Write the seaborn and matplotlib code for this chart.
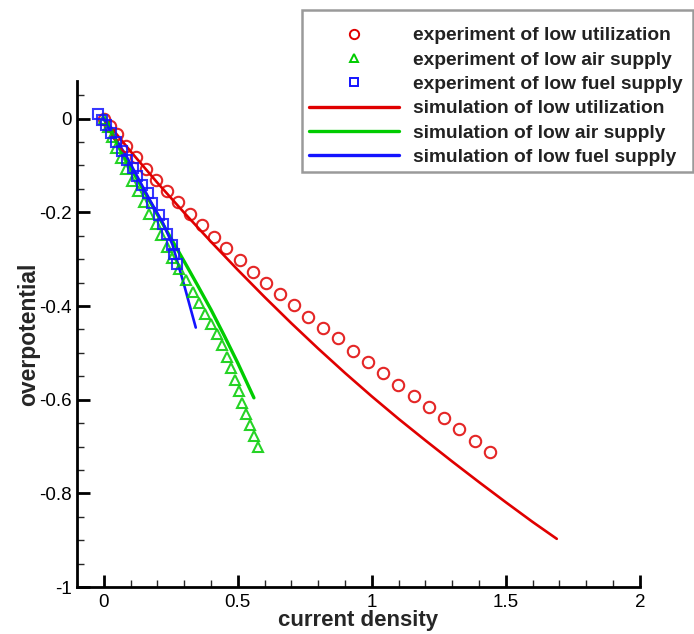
import numpy as np
import pandas as pd
import matplotlib
matplotlib.use("Agg")
import matplotlib.pyplot as plt
from matplotlib.lines import Line2D
from matplotlib.patches import Rectangle
from matplotlib.ticker import MultipleLocator
import seaborn as sns

# Experimental polarization data (current density, overpotential)
exp_util_x = [0.0, 0.022, 0.048, 0.084, 0.119, 0.156, 0.196, 0.235, 0.277, 0.321,
              0.368, 0.411, 0.457, 0.507, 0.556, 0.604, 0.656, 0.709, 0.762, 0.818,
              0.875, 0.930, 0.985, 1.042, 1.098, 1.156, 1.212, 1.271, 1.327, 1.383, 1.441]
exp_util_y = [0.0, -0.015, -0.033, -0.058, -0.082, -0.108, -0.132, -0.155, -0.179, -0.203,
              -0.228, -0.253, -0.277, -0.302, -0.327, -0.350, -0.374, -0.398, -0.423, -0.446,
              -0.469, -0.497, -0.520, -0.544, -0.568, -0.593, -0.616, -0.639, -0.663, -0.688, -0.712]

exp_air_x = [0.0, 0.016, 0.032, 0.046, 0.063, 0.082, 0.104, 0.128, 0.150, 0.169,
             0.194, 0.212, 0.235, 0.253, 0.280, 0.305, 0.334, 0.355, 0.376, 0.401,
             0.421, 0.442, 0.458, 0.473, 0.488, 0.504, 0.516, 0.529, 0.547, 0.562, 0.574]
exp_air_y = [0.0, -0.018, -0.040, -0.062, -0.084, -0.107, -0.133, -0.155, -0.179, -0.203,
             -0.226, -0.249, -0.274, -0.297, -0.322, -0.345, -0.370, -0.393, -0.416, -0.438,
             -0.460, -0.484, -0.509, -0.533, -0.557, -0.581, -0.606, -0.630, -0.653, -0.677, -0.700]

exp_fuel_x = [-0.021, -0.005, 0.007, 0.025, 0.045, 0.067, 0.088, 0.107, 0.123, 0.144,
              0.165, 0.181, 0.206, 0.222, 0.237, 0.253, 0.262, 0.272]
exp_fuel_y = [0.009, -0.003, -0.013, -0.030, -0.050, -0.070, -0.088, -0.106, -0.123, -0.141,
              -0.159, -0.180, -0.205, -0.226, -0.247, -0.269, -0.290, -0.311]

# Simulated polarization curves
sim_util_x = [0.0, 0.1, 0.2, 0.3, 0.4, 0.5, 0.6, 0.7, 0.8, 0.9,
              1.0, 1.1, 1.2, 1.3, 1.4, 1.5, 1.6, 1.69]
sim_util_y = [0.0, -0.070, -0.137, -0.201, -0.263, -0.323, -0.381, -0.437, -0.491, -0.543,
              -0.593, -0.641, -0.687, -0.732, -0.776, -0.819, -0.861, -0.897]

sim_air_x = [0.0, 0.1, 0.2, 0.3, 0.35, 0.4, 0.45, 0.5, 0.56]
sim_air_y = [0.0, -0.105, -0.205, -0.305, -0.356, -0.408, -0.464, -0.522, -0.596]

sim_fuel_x = [0.0, 0.088, 0.175, 0.22, 0.256, 0.299, 0.343]
sim_fuel_y = [0.0, -0.084, -0.177, -0.222, -0.269, -0.354, -0.446]

labels_exp = ["experiment of low utilization", "experiment of low air supply",
              "experiment of low fuel supply"]
labels_sim = ["simulation of low utilization", "simulation of low air supply",
              "simulation of low fuel supply"]
colors = ["#e00000", "#00cc00", "#1414ff"]
markers = ["o", "^", "s"]

exp_df = pd.concat([
    pd.DataFrame({"x": exp_util_x, "y": exp_util_y, "case": labels_exp[0]}),
    pd.DataFrame({"x": exp_air_x, "y": exp_air_y, "case": labels_exp[1]}),
    pd.DataFrame({"x": exp_fuel_x, "y": exp_fuel_y, "case": labels_exp[2]}),
], ignore_index=True)
sim_df = pd.concat([
    pd.DataFrame({"x": sim_util_x, "y": sim_util_y, "case": labels_sim[0]}),
    pd.DataFrame({"x": sim_air_x, "y": sim_air_y, "case": labels_sim[1]}),
    pd.DataFrame({"x": sim_fuel_x, "y": sim_fuel_y, "case": labels_sim[2]}),
], ignore_index=True)

sns.set_style("white")
plt.rcParams["font.family"] = ["Liberation Sans", "DejaVu Sans"]

fig = plt.figure(figsize=(6.94, 6.34), dpi=100)
ax = fig.add_axes([0.111, 0.074, 0.811, 0.798])

lws = [1.9, 2.4, 1.9]
for lab, c, lw in zip(labels_sim, colors, lws):
    sns.lineplot(data=sim_df[sim_df["case"] == lab], x="x", y="y", sort=False,
                 color=c, linewidth=lw, ax=ax, legend=False, zorder=2)

msizes = [8.2, 6.8, 6.8]
for lab, c, m, ms in zip(labels_exp, colors, markers, msizes):
    sub = exp_df[exp_df["case"] == lab]
    ax.plot(sub["x"], sub["y"], linestyle="none", marker=m, markersize=ms,
            markerfacecolor="none", markeredgecolor=c, markeredgewidth=1.5,
            alpha=0.85, zorder=3)

ax.set_xlim(-0.1, 2.0)
ax.set_ylim(-1.0, 0.08)
ax.xaxis.set_minor_locator(MultipleLocator(0.1))
ax.yaxis.set_minor_locator(MultipleLocator(0.05))
ax.set_xticks([0, 0.5, 1, 1.5, 2])
ax.set_xticklabels(["0", "0.5", "1", "1.5", "2"])
ax.set_yticks([0, -0.2, -0.4, -0.6, -0.8, -1])
ax.set_yticklabels(["0", "-0.2", "-0.4", "-0.6", "-0.8", "-1"])

for side in ["top", "right"]:
    ax.spines[side].set_visible(False)
for side in ["left", "bottom"]:
    ax.spines[side].set_linewidth(2.0)
    ax.spines[side].set_color("black")

ax.tick_params(which="major", direction="in", length=9, width=2, labelsize=13.5,
               colors="black", pad=4)
ax.tick_params(axis="x", which="major", pad=5)
ax.tick_params(which="minor", direction="in", length=5, width=1)
ax.tick_params(axis="x", which="both", bottom=True)
ax.tick_params(axis="y", which="both", left=True)

ax.set_xlabel("current density", fontsize=16, fontweight="bold", labelpad=-1)
ax.set_ylabel("overpotential", fontsize=16.5, fontweight="bold", labelpad=-1)

handles = []
for lab, c, m, ms in zip(labels_exp, colors, markers, msizes):
    handles.append(Line2D([], [], linestyle="none", marker=m, markersize=ms - 1.5,
                          markerfacecolor="none", markeredgecolor=c,
                          markeredgewidth=1.4, label=lab))
for lab, c in zip(labels_sim, colors):
    handles.append(Line2D([], [], color=c, linewidth=2.4, label=lab))

# Legend box drawn as a separate frame so its padding is free to set
W, H = 694.0, 634.0
fig.patches.append(Rectangle((302 / W, 1 - 172 / H), 391 / W, 162 / H,
                             transform=fig.transFigure, fill=False,
                             edgecolor="#9a9a9a", linewidth=1.8, zorder=5))
leg = fig.legend(handles=handles, loc="upper left",
                 bbox_to_anchor=(309 / W, 1 - 27 / H), borderaxespad=0,
                 prop={"family": "Liberation Sans", "weight": "bold", "size": 13.8},
                 handlelength=4.7, handletextpad=0.75, labelspacing=0.36,
                 borderpad=0.0, frameon=False)
for t in leg.get_texts():
    t.set_color("#222222")

fig.savefig("out.png", dpi=100, facecolor="white")
